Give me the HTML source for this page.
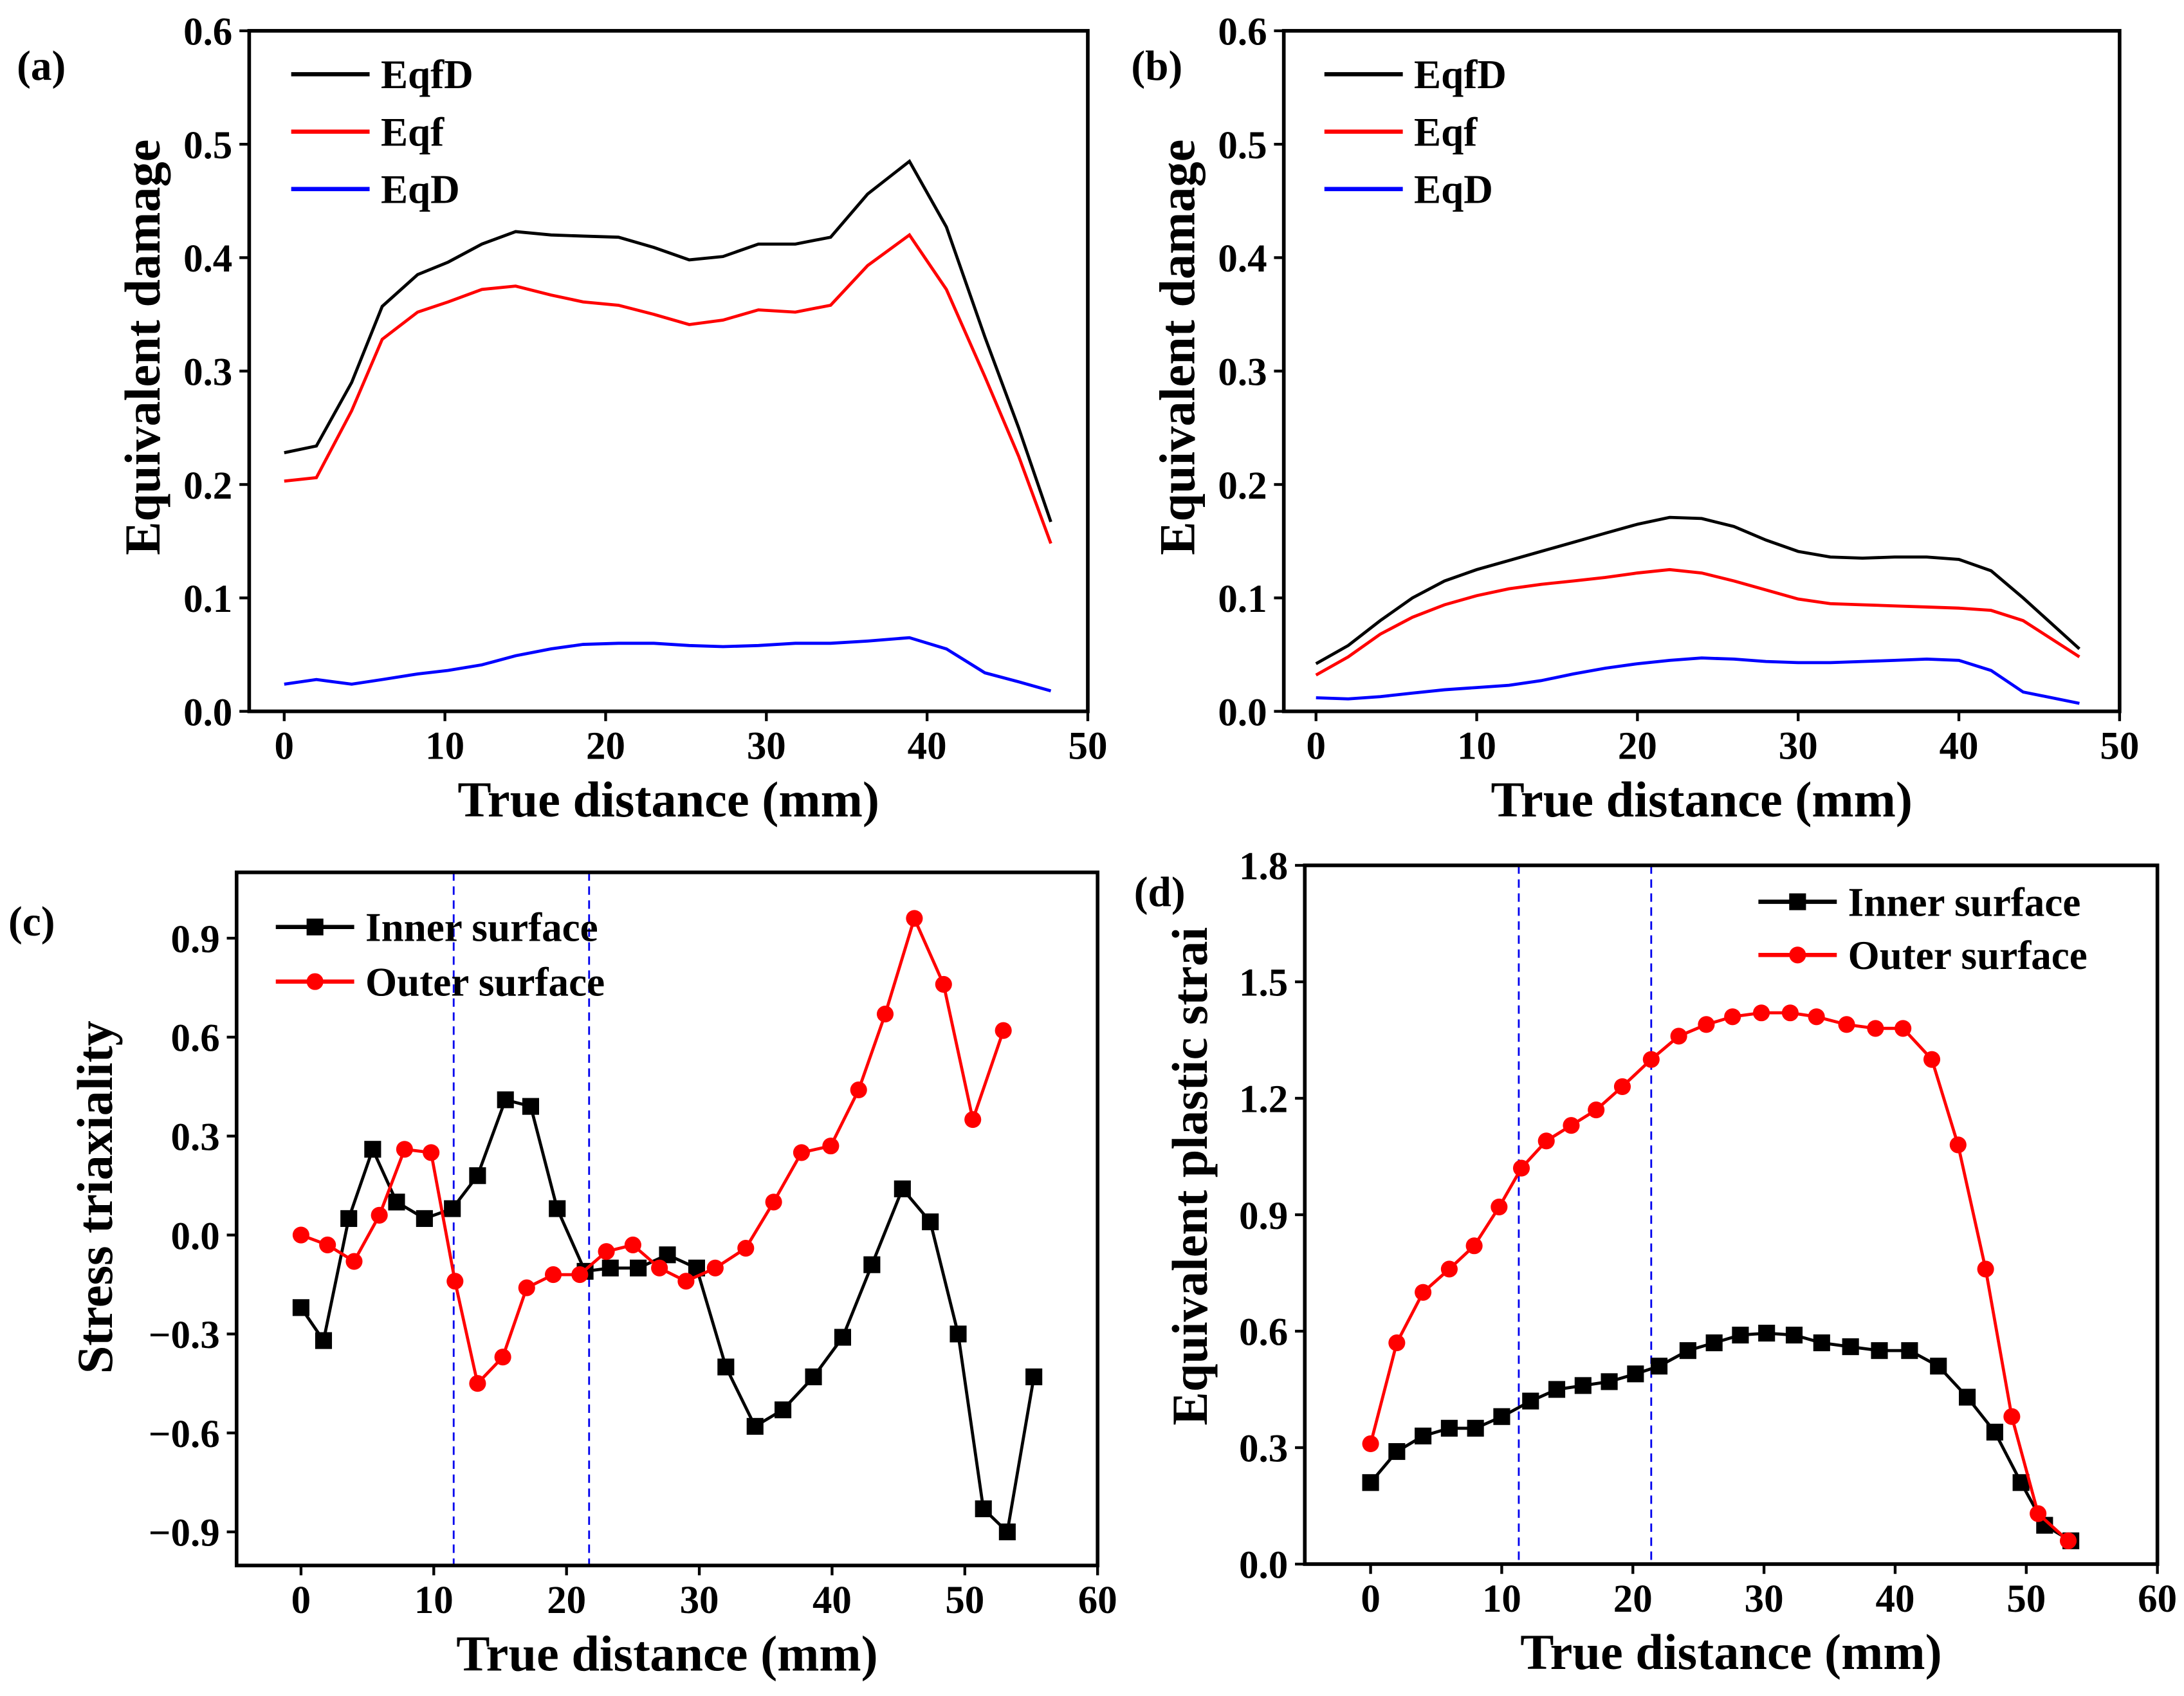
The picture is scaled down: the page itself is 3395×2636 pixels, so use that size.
<!DOCTYPE html>
<html><head><meta charset="utf-8"><style>
html,body{margin:0;padding:0;background:#fff;}
svg{display:block;}
text{font-family:"Liberation Serif",serif;font-weight:bold;fill:#000;}
</style></head><body>
<svg id="fig" width="3395" height="2636" viewBox="0 0 1560 1211.2" preserveAspectRatio="none" xmlns="http://www.w3.org/2000/svg">
<defs><clipPath id="clipD" clipPathUnits="userSpaceOnUse"><rect x="800" y="662" width="100" height="500"/></clipPath></defs>
</svg>
<script>
// Panel (a)
const aX=[0,2,4.2,6.1,8.3,10.2,12.3,14.4,16.6,18.6,20.8,23,25.2,27.3,29.5,31.8,34,36.3,38.9,41.2,43.6,45.7,47.7];
const aEqfD=[.228,.234,.29,.357,.385,.396,.412,.423,.420,.419,.418,.409,.398,.401,.412,.412,.418,.456,.485,.427,.33,.25,.167];
const aEqf=[.203,.206,.265,.328,.352,.361,.372,.375,.367,.361,.358,.350,.341,.345,.354,.352,.358,.393,.420,.372,.295,.225,.148];
const aEqD=[.024,.028,.024,.028,.033,.036,.041,.049,.055,.059,.060,.060,.058,.057,.058,.060,.060,.062,.065,.055,.034,.026,.018];
// Panel (b)
const bX=[0,2,4,6,8,10,12,14,16,18,20,22,24,26,28,30,32,34,36,38,40,42,44,47.5];
const bEqfD=[.042,.058,.08,.1,.115,.125,.133,.141,.149,.157,.165,.171,.17,.163,.151,.141,.136,.135,.136,.136,.134,.124,.1,.055];
const bEqf=[.032,.048,.068,.083,.094,.102,.108,.112,.115,.118,.122,.125,.122,.115,.107,.099,.095,.094,.093,.092,.091,.089,.08,.048];
const bEqD=[.012,.011,.013,.016,.019,.021,.023,.027,.033,.038,.042,.045,.047,.046,.044,.043,.043,.044,.045,.046,.045,.036,.017,.007];
// Panel (c)
const cInX=[0,1.7,3.6,5.4,7.2,9.3,11.4,13.3,15.4,17.3,19.3,21.4,23.3,25.4,27.6,29.8,32,34.2,36.3,38.6,40.8,43,45.3,47.4,49.5,51.4,53.2,55.2];
const cInY=[-.22,-.32,.05,.26,.10,.05,.08,.18,.41,.39,.08,-.11,-.10,-.10,-.06,-.10,-.40,-.58,-.53,-.43,-.31,-.09,.14,.04,-.30,-.83,-.90,-.43];
const cOutX=[0,2,4,5.9,7.8,9.8,11.6,13.3,15.2,17,19,21,23,25,27,29,31.2,33.5,35.6,37.7,39.9,42,44,46.2,48.4,50.6,52.9];
const cOutY=[0,-.03,-.08,.06,.26,.25,-.14,-.45,-.37,-.16,-.12,-.12,-.05,-.03,-.10,-.14,-.10,-.04,.10,.25,.27,.44,.67,.96,.76,.35,.62];
const cDash=[11.5,21.7];
// Panel (d)
const dInX=[0,2,4,6,8,10,12.2,14.2,16.2,18.2,20.2,22,24.2,26.2,28.2,30.2,32.3,34.4,36.6,38.8,41.1,43.3,45.5,47.6,49.6,51.4,53.4];
const dInY=[.21,.29,.33,.35,.35,.38,.42,.45,.46,.47,.49,.51,.55,.57,.59,.595,.59,.57,.56,.55,.55,.51,.43,.34,.21,.10,.06];
const dOutX=[0,2,4,6,7.9,9.8,11.5,13.4,15.3,17.2,19.2,21.4,23.5,25.6,27.6,29.8,32,34,36.3,38.5,40.6,42.8,44.8,46.9,48.9,50.9,53.2];
const dOutY=[.31,.57,.70,.76,.82,.92,1.02,1.09,1.13,1.17,1.23,1.30,1.36,1.39,1.41,1.42,1.42,1.41,1.39,1.38,1.38,1.30,1.08,.76,.38,.13,.06];
const dDash=[11.3,21.4];
const abXTicks=[0,10,20,30,40,50];
const abYTicks=[0,0.1,0.2,0.3,0.4,0.5,0.6];
const cdXTicks=[0,10,20,30,40,50,60];
const cYTicks=[-0.9,-0.6,-0.3,0,0.3,0.6,0.9];
const dYTicks=[0,0.3,0.6,0.9,1.2,1.5,1.8];

const svg=document.getElementById('fig');
const NS='http://www.w3.org/2000/svg';
function el(tag,attrs,parent){const e=document.createElementNS(NS,tag);for(const k in attrs)e.setAttribute(k,attrs[k]);(parent||svg).appendChild(e);return e;}
function txt(s,x,y,size,anchor,parent){const t=el('text',{x:x,y:y,'font-size':size,'text-anchor':anchor||'middle'},parent);t.textContent=s;return t;}

function panel(p){
  const g=el('g',{});
  
  
  const sx=v=>p.px0+(v-p.x0)*(p.px1-p.px0)/(p.x1-p.x0);
  const sy=v=>p.py0+(v-p.y0)*(p.py1-p.py0)/(p.y1-p.y0);
  p.xt.forEach(v=>{const X=sx(v);el('line',{x1:X,y1:p.B,x2:X,y2:p.B+7,stroke:'#000','stroke-width':2},g);
    const t=txt(String(v),X,p.B+34,28,'middle',g);
    
    });
  p.yt.forEach(v=>{const Y=sy(v);el('line',{x1:p.L-7,y1:Y,x2:p.L,y2:Y,stroke:'#000','stroke-width':2},g);
    const s=v<0?'\u2212'+Math.abs(v).toFixed(1):v.toFixed(1);
    const t=txt(s,p.L-12,Y+10,28,'end',g);
    
    });
  (p.dash||[]).forEach(v=>{const d=el('line',{x1:sx(v),y1:p.T,x2:sx(v),y2:p.B,stroke:'#0000ee','stroke-width':1.3,'stroke-dasharray':'6,4'},g);
    
    });
  p.series.forEach(s=>{
    const pts=s.x.map((v,i)=>sx(v).toFixed(1)+','+sy(s.y[i]).toFixed(1)).join(' ');
    const l=el('polyline',{points:pts,fill:'none',stroke:s.c,'stroke-width':2.2},g);
    
    
    if(s.m){s.x.forEach((v,i)=>{const X=sx(v),Y=sy(s.y[i]);let m;
      if(s.m==='sq')m=el('rect',{x:X-6,y:Y-6,width:12,height:12,fill:s.c},g);
      else m=el('circle',{cx:X,cy:Y,r:6,fill:s.c},g);
      
      });}
  });
  const f=el('rect',{x:p.L,y:p.T,width:p.R-p.L,height:p.B-p.T,fill:'none',stroke:'#000','stroke-width':2.6},g);
  
  
  p.legend.forEach((e,i)=>{const y=p.lg.y+i*p.lg.dy;
    el('line',{x1:p.lg.x,y1:y,x2:p.lg.x+p.lg.w,y2:y,stroke:e.c,'stroke-width':3},g);
    if(e.m==='sq')el('rect',{x:p.lg.x+p.lg.w/2-6,y:y-6,width:12,height:12,fill:e.c},g);
    if(e.m==='ci')el('circle',{cx:p.lg.x+p.lg.w/2,cy:y,r:6,fill:e.c},g);
    const t=txt(e.t,p.lg.x+p.lg.w+8,y+10,29,'start',g);
    
    });
  const xt=txt('True distance (mm)',(p.L+p.R)/2,p.B+75,36,'middle',g);
  
  
  const yg=el('g',{},g);
  if(p.clip)yg.setAttribute('clip-path','url(#clipD)');
  const yt=txt(p.ytitle,0,0,36,'middle',yg);
  yt.setAttribute('transform','translate('+p.ytx+','+p.yty+') rotate(-90)');
  
  
  const lb=txt(p.label,p.lx,p.ly,30,'start',g);
  
  
}
panel({id:'a',L:178,R:777,T:22,B:508,x0:0,x1:50,px0:203,px1:777,y0:0,y1:0.6,py0:508,py1:22,xt:abXTicks,yt:abYTicks,
  series:[{x:aX,y:aEqfD,c:'#000',name:'eqfd'},{x:aX,y:aEqf,c:'#ff0000',name:'eqf'},{x:aX,y:aEqD,c:'#0000ff',name:'eqd'}],
  legend:[{t:'EqfD',c:'#000'},{t:'Eqf',c:'#ff0000'},{t:'EqD',c:'#0000ff'}],lg:{x:208,y:53,dy:41,w:56},
  ytitle:'Equivalent damage',ytx:114,yty:248,label:'(a)',lx:12,ly:57});
panel({id:'b',L:917,R:1514,T:22,B:508,x0:0,x1:50,px0:940,px1:1514,y0:0,y1:0.6,py0:508,py1:22,xt:abXTicks,yt:abYTicks,
  series:[{x:bX,y:bEqfD,c:'#000',name:'eqfd'},{x:bX,y:bEqf,c:'#ff0000',name:'eqf'},{x:bX,y:bEqD,c:'#0000ff',name:'eqd'}],
  legend:[{t:'EqfD',c:'#000'},{t:'Eqf',c:'#ff0000'},{t:'EqD',c:'#0000ff'}],lg:{x:946,y:53,dy:41,w:56},
  ytitle:'Equivalent damage',ytx:853,yty:248,label:'(b)',lx:808,ly:57});
panel({id:'c',L:169,R:784,T:623,B:1118,x0:0,x1:60,px0:215,px1:784,y0:0,y1:0.9,py0:882,py1:670,xt:cdXTicks,yt:cYTicks,dash:cDash,
  series:[{x:cInX,y:cInY,c:'#000',name:'inner-surface',m:'sq'},{x:cOutX,y:cOutY,c:'#ff0000',name:'outer-surface',m:'ci'}],
  legend:[{t:'Inner surface',c:'#000',m:'sq'},{t:'Outer surface',c:'#ff0000',m:'ci'}],lg:{x:197,y:662,dy:39,w:56},
  ytitle:'Stress triaxiality',ytx:80,yty:855,label:'(c)',lx:6,ly:668});
panel({id:'d',L:932,R:1541,T:618,B:1117,x0:0,x1:60,px0:979,px1:1541,y0:0,y1:1.8,py0:1117,py1:618,xt:cdXTicks,yt:dYTicks,dash:dDash,
  series:[{x:dInX,y:dInY,c:'#000',name:'inner-surface',m:'sq'},{x:dOutX,y:dOutY,c:'#ff0000',name:'outer-surface',m:'ci'}],
  legend:[{t:'Inner surface',c:'#000',m:'sq'},{t:'Outer surface',c:'#ff0000',m:'ci'}],lg:{x:1256,y:644,dy:38,w:56},
  ytitle:'Equivalent plastic strain',ytx:862,yty:830,clip:true,label:'(d)',lx:810,ly:647});
</script>
</body></html>
